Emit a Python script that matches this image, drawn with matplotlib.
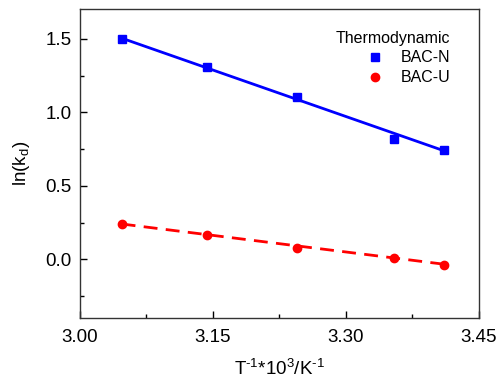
import matplotlib
matplotlib.use('Agg')
import matplotlib.pyplot as plt
from matplotlib.ticker import MultipleLocator, FormatStrFormatter

plt.rcParams['font.family'] = ['Liberation Sans', 'DejaVu Sans']
plt.rcParams['mathtext.fontset'] = 'custom'
plt.rcParams['mathtext.rm'] = 'Liberation Sans'
plt.rcParams['mathtext.it'] = 'Liberation Sans'
plt.rcParams['axes.unicode_minus'] = False

# data (1000/T vs ln(kd))
invT = [3.047, 3.143, 3.245, 3.354, 3.411]
bac_n = [1.50, 1.308, 1.104, 0.817, 0.745]
bac_u = [0.237, 0.167, 0.079, 0.009, -0.039]

# linear fit lines (endpoints)
fit_x = [3.047, 3.411]
fit_n = [1.505, 0.738]
fit_u = [0.240, -0.034]

fig = plt.figure(figsize=(4.99, 3.83), dpi=100)
ax = fig.add_axes([0.1603, 0.1697, 0.799, 0.8055])

ax.plot(fit_x, fit_n, color='#0000FF', lw=2)
ax.plot(fit_x, fit_u, color='#FF0000', lw=2, ls=(0, (5, 3)))
ax.plot(invT, bac_n, 's', color='#0000FF', ms=6, label='BAC-N')
ax.plot(invT, bac_u, 'o', color='#FF0000', ms=6, label='BAC-U')

ax.set_xlim(3.00, 3.45)
ax.set_ylim(-0.4, 1.7)
ax.xaxis.set_major_locator(MultipleLocator(0.15))
ax.xaxis.set_minor_locator(MultipleLocator(0.075))
ax.xaxis.set_major_formatter(FormatStrFormatter('%.2f'))
ax.yaxis.set_major_locator(MultipleLocator(0.5))
ax.yaxis.set_minor_locator(MultipleLocator(0.25))
ax.yaxis.set_major_formatter(FormatStrFormatter('%.1f'))

ax.tick_params(axis='both', which='major', direction='in', length=5, width=1, labelsize=13.5)
ax.tick_params(axis='x', which='major', pad=8)
ax.tick_params(axis='y', which='major', pad=6)
ax.tick_params(axis='both', which='minor', direction='in', length=3, width=1)
for s in ax.spines.values():
    s.set_linewidth(1)
    s.set_color('#333333')

ax.set_xlabel(r'T$^{\text{-}1}$*10$^{3}$/K$^{\text{-}1}$', fontsize=13.5, labelpad=9)
ax.set_ylabel('ln(k$_{d}$)', fontsize=13.5, labelpad=10)

leg = ax.legend(title='Thermodynamic', loc='upper right', bbox_to_anchor=(0.965, 0.978),
                frameon=False, fontsize=11.5, title_fontsize=11.5, handlelength=1.2,
                handletextpad=1.0, labelspacing=0.3, alignment='right')

plt.savefig('out.png', dpi=100)
